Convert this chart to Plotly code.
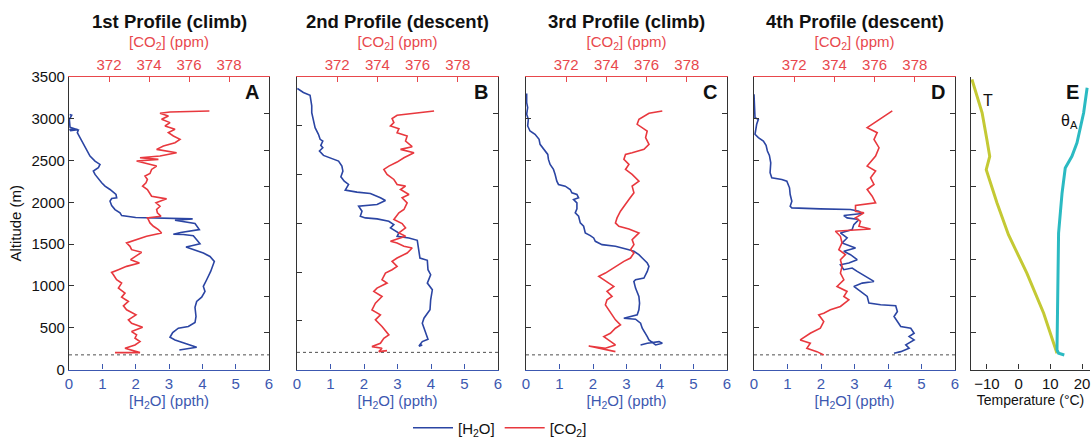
import plotly.graph_objects as go

# ---------------- data (value, altitude m) ----------------
A_H2O = [(3.31,234),(3.83,266),(3.18,354),(3.03,386),(3.11,442),(3.28,494),(3.58,514),(3.78,562),
         (3.81,634),(3.78,745),(3.83,814),(3.98,866),(4.08,934),(4.03,994),(4.13,1074),(4.25,1173),
         (4.36,1293),(4.23,1353),(4.03,1393),(3.88,1413),(3.68,1441),(3.51,1465),(3.68,1481),(3.93,1505),
         (3.83,1553),(3.73,1601),(3.43,1615),(3.13,1618),(3.35,1640),(3.91,1674),(3.78,1746),(3.43,1770),
         (3.18,1786),(3.71,1802),(3.00,1810),(2.00,1818),(1.58,1842),(1.53,1874),(1.38,1914),(1.28,1962),
         (1.23,2014),(1.28,2046),(1.43,2054),(1.41,2094),(1.23,2154),(1.08,2194),(0.98,2234),(0.88,2282),
         (0.78,2334),(0.73,2374),(0.88,2414),(0.93,2454),(0.78,2494),(0.63,2554),(0.58,2594),(0.48,2654),
         (0.41,2714),(0.33,2774),(0.25,2834),(0.28,2866),(0.02,2874),(0.05,2858),(0.26,2870),(0.03,2900),
         (0.01,2994),(0.08,3042),(0.02,3050)]
A_CO2 = [(372.30,202),(373.55,202),(372.80,254),(373.30,294),(373.55,334),(373.30,374),(373.38,414),
         (373.13,454),(373.68,506),(373.13,554),(372.97,594),(373.35,654),(372.88,714),(372.72,762),
         (372.97,814),(372.63,866),(372.80,914),(372.47,974),(372.63,1034),(372.38,1074),(372.22,1134),
         (372.13,1162),(372.47,1194),(372.88,1234),(373.52,1274),(373.08,1314),(373.38,1362),(373.63,1402),
         (373.13,1434),(373.05,1474),(372.88,1514),(373.30,1546),(373.88,1594),(374.63,1634),(374.47,1674),
         (374.22,1714),(374.05,1754),(373.97,1794),(373.92,1814),(374.60,1834),(374.42,1874),(374.38,1914),
         (374.55,1954),(374.35,1994),(374.88,2042),(374.13,2074),(374.02,2114),(373.92,2154),(373.68,2194),
         (373.85,2234),(373.92,2274),(373.80,2314),(374.05,2346),(374.13,2394),(374.38,2434),(373.88,2466),
         (373.38,2494),(374.47,2514),(373.55,2534),(374.55,2554),(375.38,2594),(374.38,2634),(374.72,2674),
         (375.30,2714),(375.55,2754),(375.22,2794),(374.97,2834),(375.30,2874),(374.80,2914),(375.05,2954),
         (374.63,2994),(374.97,3034),(374.55,3066),(375.05,3082),(377.02,3094)]

B_H2O = [(0.01,3362),(0.19,3314),(0.39,3282),(0.41,3214),(0.44,3154),(0.44,3074),(0.49,2994),(0.54,2894),
         (0.64,2814),(0.69,2754),(0.77,2734),(0.71,2682),(0.77,2654),(0.67,2614),(0.79,2562),(1.04,2522),
         (1.24,2494),(1.34,2434),(1.37,2374),(1.31,2306),(1.41,2254),(1.54,2214),(1.44,2146),(1.79,2122),
         (2.19,2106),(2.49,2054),(2.64,2022),(2.39,1974),(2.04,1962),(1.84,1954),(1.94,1894),(1.89,1834),
         (2.04,1814),(2.39,1802),(2.74,1774),(2.89,1734),(2.79,1694),(3.04,1634),(2.99,1594),(3.34,1574),
         (3.59,1546),(3.64,1434),(3.67,1334),(3.89,1306),(3.91,1194),(3.99,1134),(3.89,1034),(4.04,954),
         (3.99,834),(3.97,714),(3.79,614),(3.74,554),(3.84,454),(3.91,362),(3.74,334),(3.64,282),
         (3.74,294),(3.64,278)]
B_CO2 = [(376.82,3094),(374.98,3042),(374.73,3002),(374.82,2954),(374.65,2914),(375.07,2882),(374.98,2834),
         (375.48,2794),(375.40,2734),(375.73,2666),(375.15,2634),(375.82,2594),(375.32,2534),(374.98,2482),
         (374.57,2434),(374.32,2394),(374.48,2334),(374.82,2274),(374.98,2214),(375.40,2194),(375.15,2154),
         (375.57,2094),(375.23,2054),(375.48,1994),(375.32,1914),(375.07,1874),(374.82,1794),(375.23,1746),
         (375.40,1694),(375.07,1634),(375.40,1594),(374.65,1534),(374.98,1514),(375.32,1474),(375.73,1454),
         (375.48,1394),(374.98,1334),(374.73,1294),(374.98,1234),(374.73,1194),(374.40,1154),(374.23,1074),
         (374.48,1034),(373.98,974),(373.82,934),(374.23,874),(373.90,794),(373.73,714),(374.15,654),
         (373.90,594),(374.23,514),(374.57,414),(374.32,374),(374.15,314),(373.73,274),(374.23,254),
         (374.07,214),(374.48,226)]

C_H2O = [(3.42,294),(3.62,314),(3.97,334),(4.07,314),(3.87,294),(3.67,354),(3.62,394),(3.57,434),
         (3.47,494),(3.42,554),(3.27,602),(2.92,614),(3.12,634),(3.32,654),(3.37,714),(3.39,794),
         (3.37,874),(3.27,974),(3.22,1054),(3.27,1074),(3.52,1094),(3.62,1174),(3.67,1234),(3.62,1274),
         (3.47,1334),(3.37,1374),(3.22,1414),(3.07,1434),(2.67,1474),(2.27,1494),(2.07,1534),(2.02,1574),
         (1.92,1602),(1.77,1634),(1.72,1714),(1.62,1754),(1.57,1834),(1.47,1874),(1.52,1922),(1.52,1994),
         (1.42,2034),(1.57,2054),(1.52,2094),(1.37,2114),(1.32,2154),(1.17,2194),(0.97,2214),(0.92,2254),
         (0.87,2334),(0.82,2394),(0.72,2454),(0.67,2514),(0.65,2574),(0.52,2634),(0.42,2694),(0.39,2754),
         (0.27,2814),(0.12,2854),(0.05,2914),(0.07,2994),(0.02,3054),(0.05,3134),(0.02,3194),(0.02,3302)]
C_CO2 = [(374.45,214),(373.12,282),(373.95,254),(374.45,294),(373.87,394),(374.20,434),(374.45,494),
         (374.70,534),(374.45,594),(374.28,654),(374.12,714),(373.95,774),(374.03,834),(374.28,874),
         (374.03,934),(374.37,994),(374.12,1034),(373.87,1074),(373.62,1114),(373.95,1154),(374.20,1194),
         (374.62,1254),(374.87,1294),(375.20,1334),(375.37,1394),(375.20,1434),(375.37,1494),(375.28,1554),
         (375.62,1634),(375.12,1682),(374.62,1714),(374.45,1754),(374.53,1814),(374.70,1894),(374.87,1954),
         (375.12,2034),(375.37,2114),(375.28,2194),(375.62,2254),(375.28,2334),(374.95,2394),(375.12,2454),
         (374.87,2514),(374.95,2574),(375.28,2594),(375.87,2634),(376.12,2694),(375.95,2774),(376.03,2854),
         (375.53,2934),(375.62,2994),(375.87,3034),(376.12,3066),(376.78,3094)]

D_H2O = [(0.00,3294),(0.03,3114),(0.03,3014),(0.13,2994),(0.08,2934),(0.03,2814),(0.13,2774),(0.28,2734),
         (0.36,2682),(0.40,2614),(0.46,2562),(0.50,2474),(0.48,2354),(0.53,2294),(0.83,2274),(0.98,2254),
         (1.06,2174),(1.08,2094),(1.13,2014),(1.08,1954),(1.13,1934),(1.98,1922),(2.88,1914),(3.13,1894),
         (3.23,1866),(2.68,1842),(2.78,1814),(3.13,1794),(2.98,1734),(2.93,1674),(2.58,1634),(2.78,1574),
         (2.63,1514),(3.03,1454),(2.68,1414),(2.88,1374),(3.08,1314),(2.83,1274),(2.58,1254),(2.68,1194),
         (2.93,1214),(3.08,1174),(3.33,1114),(3.58,1054),(3.23,1034),(2.98,994),(3.18,934),(3.38,874),
         (3.43,794),(3.78,774),(4.23,762),(4.28,694),(4.18,634),(4.28,574),(4.38,514),(4.68,494),
         (4.78,434),(4.63,394),(4.78,354),(4.53,294),(4.63,254),(4.38,214),(4.18,194)]
D_CO2 = [(376.88,3094),(376.63,3054),(376.22,2994),(375.97,2954),(375.63,2894),(376.13,2834),(375.97,2754),
         (376.22,2654),(376.05,2554),(375.63,2434),(376.05,2374),(375.80,2294),(375.97,2214),(375.63,2154),
         (375.88,2074),(376.05,1994),(375.05,1962),(375.05,1894),(375.47,1874),(375.05,1814),(375.30,1774),
         (375.22,1714),(375.80,1682),(374.80,1666),(374.05,1654),(374.30,1594),(374.38,1514),(374.22,1434),
         (374.55,1374),(374.30,1314),(374.38,1234),(374.30,1154),(374.47,1074),(374.13,994),(374.63,934),
         (374.47,874),(374.72,834),(374.30,754),(373.80,714),(373.47,674),(373.22,654),(373.47,574),
         (373.30,494),(372.80,434),(372.55,394),(372.30,354),(372.80,314),(372.63,254),(373.13,214),
         (373.47,174)]

GROUND_ALT = [175, 205, 175, 175]

E_T = [(-14.7,3966),(-11.5,3510),(-10.0,3144),(-9.1,2915),(-10.2,2733),(-6.8,2277),(-3.2,1843),
       (2.6,1318),(7.9,770),(12.1,222)]
E_THETA = [(21.6,3852),(20.5,3510),(18.4,3099),(16.8,2915),(14.7,2756),(13.7,2414),(12.6,1866),
           (12.3,1044),(12.1,267),(12.6,222),(14.4,199)]

TITLES = ["1st Profile (climb)", "2nd Profile (descent)", "3rd Profile (climb)", "4th Profile (descent)"]
LETTERS = ["A", "B", "C", "D"]
H2O_TICKS = [0, 1, 2, 3, 4, 5, 6]
CO2_TICKS = [372, 374, 376, 378]
ALT_TICKS = [0, 500, 1000, 1500, 2000, 2500, 3000, 3500]
TEMP_TICKS = [-10, 0, 10, 20]

# ---------------- styling ----------------
W, H = 1092, 440
BLUE = "#2b45a3"
RED = "#e8383e"
BLUEAX = "#3c58b0"
REDAX = "#e8474c"
DARK = "#333333"
YELLOW = "#c4c934"
CYAN = "#2bbac2"
FONT = "Liberation Sans, Arial, Helvetica, sans-serif"

PANEL_PX = [(69, 269), (297, 498), (526, 727), (754, 955)]
E_PX = (971, 1090)
YTOP, YBOT = 77, 369.5
ydom = [1 - YBOT / H, 1 - YTOP / H]


def axn(prefix, n):
    return prefix if n == 1 else f"{prefix}{n}"


fig = go.Figure()
layout = {}
annotations = []
datasets = [(A_H2O, A_CO2), (B_H2O, B_CO2), (C_H2O, C_CO2), (D_H2O, D_CO2)]

for p in range(4):
    xb, xt = 2 * p + 1, 2 * p + 2
    yd, yr, yl = 3 * p + 1, 3 * p + 2, 3 * p + 3
    h2o, co2 = datasets[p]
    fig.add_trace(go.Scatter(
        x=[v for v, a in h2o], y=[a for v, a in h2o], mode="lines",
        xaxis=axn("x", xb), yaxis=axn("y", yd),
        line=dict(color=BLUE, width=1.6), name="[H<sub>2</sub>O]",
        legendgroup="h2o", showlegend=(p == 0)))
    fig.add_trace(go.Scatter(
        x=[v for v, a in co2], y=[a for v, a in co2], mode="lines",
        xaxis=axn("x", xt), yaxis=axn("y", yd),
        line=dict(color=RED, width=1.6), name="[CO<sub>2</sub>]",
        legendgroup="co2", showlegend=(p == 0)))
    fig.add_trace(go.Scatter(
        x=[H2O_TICKS[0], H2O_TICKS[-1]], y=[GROUND_ALT[p]] * 2, mode="lines",
        xaxis=axn("x", xb), yaxis=axn("y", yd),
        line=dict(color="#222222", width=0.8, dash="dot"), showlegend=False, hoverinfo="skip"))
    for yy in (yr, yl):
        fig.add_trace(go.Scatter(x=[None], y=[None], xaxis=axn("x", xb), yaxis=axn("y", yy),
                                 showlegend=False, hoverinfo="skip"))

    x0, x1 = PANEL_PX[p]
    dom = [x0 / W, x1 / W]
    layout[axn("xaxis", xb)] = dict(
        domain=dom, anchor=axn("y", yd), range=[0, 6], tickvals=H2O_TICKS, automargin=False,
        ticks="inside", ticklen=5, tickcolor=BLUEAX, showline=True, linecolor=BLUEAX, linewidth=1.2,
        tickfont=dict(color=BLUEAX, size=15), showgrid=False, zeroline=False,
        title=dict(text="[H<sub>2</sub>O] (ppth)", font=dict(color=BLUEAX, size=15), standoff=4))
    layout[axn("xaxis", xt)] = dict(
        overlaying=axn("x", xb), side="top", anchor=axn("y", yd), range=[370, 380],
        tickvals=CO2_TICKS, ticks="inside", ticklen=5, tickcolor=REDAX, showline=True,
        linecolor=REDAX, linewidth=1.2, tickfont=dict(color=REDAX, size=15), showgrid=False,
        zeroline=False, automargin=False,
        title=dict(text="[CO<sub>2</sub>] (ppm)", font=dict(color=REDAX, size=15), standoff=4))
    layout[axn("yaxis", yd)] = dict(
        domain=ydom, anchor=axn("x", xb), range=[0, 3500], tickvals=ALT_TICKS, automargin=False,
        ticks=("" if p == 1 else "inside"), ticklen=5, tickcolor=DARK,
        showticklabels=(p == 0), tickfont=dict(color="#111111", size=15),
        showline=True, linecolor=DARK, linewidth=1.2, showgrid=False, zeroline=False,
        title=dict(text=("Altitude (m)" if p == 0 else ""), font=dict(size=15, color="#111111"),
                   standoff=6))
    layout[axn("yaxis", yr)] = dict(
        overlaying=axn("y", yd), side="right", anchor=axn("x", xb), range=[0, 4000],
        tickvals=ALT_TICKS[1:], ticks="inside", ticklen=5, tickcolor=DARK, showticklabels=False,
        showline=True, linecolor=DARK, linewidth=1.2, showgrid=False, zeroline=False,
        automargin=False)
    layout[axn("yaxis", yl)] = dict(
        overlaying=axn("y", yd), side="left", anchor=axn("x", xb),
        range=([0, 3000] if p == 1 else [0, 3500]),
        tickvals=(ALT_TICKS[1:6] if p == 1 else []), ticks="inside", ticklen=5, tickcolor=DARK,
        showticklabels=False, showline=False, showgrid=False, zeroline=False, automargin=False)

    annotations.append(dict(text=f"<b>{TITLES[p]}</b>", x=(x0 + x1) / 2 / W, y=1 - 21 / H,
                            xref="paper", yref="paper", showarrow=False,
                            font=dict(size=18.5, color="#111111"), xanchor="center", yanchor="middle"))
    annotations.append(dict(text=f"<b>{LETTERS[p]}</b>", x=(x1 - 8) / W, y=1 - 92 / H,
                            xref="paper", yref="paper", showarrow=False,
                            font=dict(size=20, color="#111111"), xanchor="right", yanchor="middle"))

# panel E
fig.add_trace(go.Scatter(x=[v for v, a in E_T], y=[a for v, a in E_T], mode="lines",
                         xaxis="x9", yaxis="y13", line=dict(color=YELLOW, width=3),
                         showlegend=False, name="T"))
fig.add_trace(go.Scatter(x=[v for v, a in E_THETA], y=[a for v, a in E_THETA], mode="lines",
                         xaxis="x9", yaxis="y13", line=dict(color=CYAN, width=3),
                         showlegend=False, name="θA"))
layout["xaxis9"] = dict(domain=[E_PX[0] / W, E_PX[1] / W], anchor="y13", range=[-15, 22.5],
                        tickvals=TEMP_TICKS, ticks="inside", ticklen=5, tickcolor=DARK,
                        showline=True, linecolor=DARK, linewidth=1.2, automargin=False,
                        tickfont=dict(size=15, color="#111111"), showgrid=False, zeroline=False,
                        title=dict(text="Temperature (°C)", font=dict(size=14, color="#111111"),
                                   standoff=4))
layout["yaxis13"] = dict(domain=ydom, anchor="x9", range=[0, 4000], tickvals=ALT_TICKS[1:],
                         ticks="inside", ticklen=5, tickcolor=DARK, showticklabels=False,
                         showline=True, linecolor=DARK, linewidth=1.2, showgrid=False,
                         zeroline=False, automargin=False)
annotations += [
    dict(text="<b>E</b>", x=1072 / W, y=1 - 92 / H, xref="paper", yref="paper", showarrow=False,
         font=dict(size=20, color="#111111"), xanchor="center", yanchor="middle"),
    dict(text="T", x=988 / W, y=1 - 100 / H, xref="paper", yref="paper", showarrow=False,
         font=dict(size=16, color="#111111"), xanchor="center", yanchor="middle"),
    dict(text="θ<sub>A</sub>", x=1069 / W, y=1 - 121 / H, xref="paper", yref="paper",
         showarrow=False, font=dict(size=16, color="#111111"), xanchor="center", yanchor="middle"),
]

fig.update_layout(
    width=W, height=H, margin=dict(l=0, r=0, t=0, b=0, autoexpand=False),
    paper_bgcolor="white", plot_bgcolor="white",
    font=dict(family=FONT, size=15, color="#111111"),
    annotations=annotations,
    legend=dict(orientation="h", x=500 / W, y=1 - 428 / H, xanchor="center", yanchor="middle",
                font=dict(size=15), bgcolor="rgba(0,0,0,0)", itemwidth=40),
    **layout)

fig.write_html("out.html", config={"displayModeBar": False},
               post_script="document.body.style.margin='0px';document.body.style.overflow='hidden';")
